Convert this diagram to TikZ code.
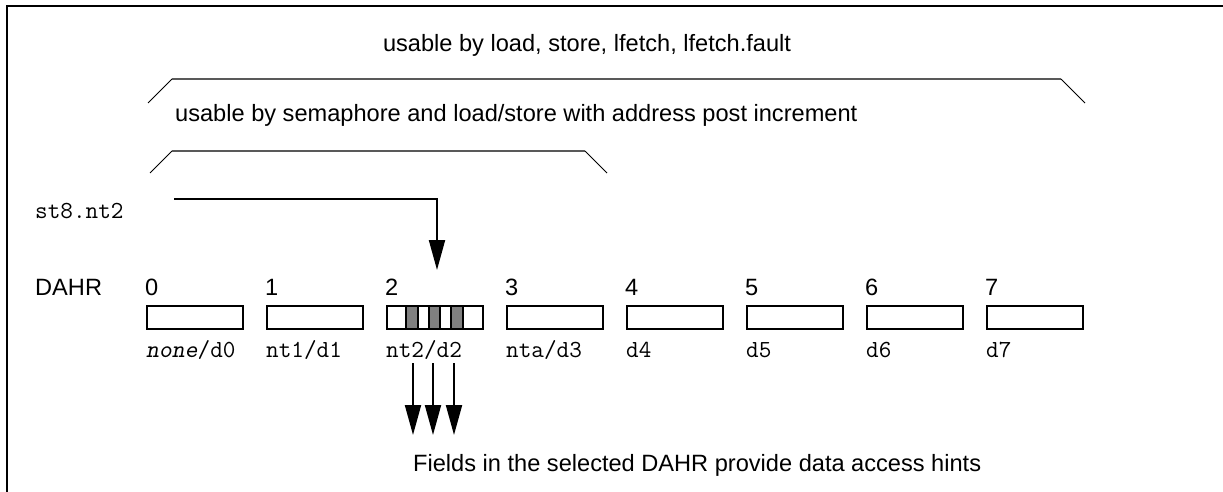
\documentclass[tikz,border=0pt]{standalone}
\usepackage{fontspec}
\setmainfont{Liberation Sans}
\usetikzlibrary{arrows.meta}
\begin{document}
\begin{tikzpicture}[x=1pt,y=-1pt,
  sanstext/.style={inner sep=0pt,font=\fontsize{23.6}{28}\selectfont},
  monotext/.style={inner sep=0pt,font=\fontsize{24.5}{28}\ttfamily},
  dahrbox/.style={draw,line width=2pt,minimum width=96pt,minimum height=23pt,inner sep=0pt,anchor=north west},
  field/.style={draw,line width=2pt,fill=black!50,minimum height=23pt,inner sep=0pt},
  brackethor/.style={line width=1.8pt,draw=black!65},
  bracketdiag/.style={line width=1pt},
  conn/.style={line width=2pt,-{Triangle[length=30pt,width=16pt]}}
]
\useasboundingbox (0,0) rectangle (1223,492);
\draw[line width=1.5pt] (7,492) -- (7,6) -- (1223,6);

% titles and brackets
\node[sanstext] (t1) at (587,45) {usable by load, store, lfetch, lfetch.fault};
\coordinate (b1a) at (148,103);
\coordinate (b1b) at (172,79);
\coordinate (b1c) at (1061,79);
\coordinate (b1d) at (1085,103);
\draw[bracketdiag] (b1a) -- (b1b);
\draw[brackethor] (b1b) -- (b1c);
\draw[bracketdiag] (b1c) -- (b1d);

\node[sanstext,anchor=west] (t2) at (175,115) {usable by semaphore and load/store with address post increment};
\coordinate (b2a) at (150,173);
\coordinate (b2b) at (172,151);
\coordinate (b2c) at (585,151);
\coordinate (b2d) at (607,173);
\draw[bracketdiag] (b2a) -- (b2b);
\draw[brackethor] (b2b) -- (b2c);
\draw[bracketdiag] (b2c) -- (b2d);

% instruction
\node[monotext,anchor=base west] (st) at (35,218) {st8.nt2};
\coordinate (stA) at (174,199);
\coordinate (stB) at (437,199);
\coordinate (stC) at (437,270);
\draw[conn] (stA) -- (stB) -- (stC);

% DAHR row
\node[sanstext,anchor=base west] (dahr) at (35,295) {DAHR};
\foreach \i/\lab in {0/{\textsl{none}/d0},1/{nt1/d1},2/{nt2/d2},3/{nta/d3},4/{d4},5/{d5},6/{d6},7/{d7}}{
  \node[dahrbox] (box\i) at ({146+120*\i},305) {};
  \node[sanstext,anchor=base west] (num\i) at ({145+120*\i},295) {\i};
  \node[monotext,anchor=base west] (lab\i) at ({146+120*\i},357) {\lab};
}
% fields in DAHR 2
\node[field,minimum width=12pt,anchor=north west] (f1) at (405,305) {};
\node[field,minimum width=11pt,anchor=north west] (f2) at (428,305) {};
\node[field,minimum width=12pt,anchor=north west] (f3) at (450,305) {};
\node[dahrbox] at (box2.north west) {};

% hints
\node[sanstext,anchor=west] (hints) at (413,465) {Fields in the selected DAHR provide data access hints};
\coordinate (h1s) at (413,363);
\coordinate (h2s) at (433,363);
\coordinate (h3s) at (454,363);
\coordinate (h1e) at (413,435);
\coordinate (h2e) at (433,435);
\coordinate (h3e) at (454,435);
\draw[conn] (h1s) -- (h1e);
\draw[conn] (h2s) -- (h2e);
\draw[conn] (h3s) -- (h3e);
\end{tikzpicture}
\end{document}
